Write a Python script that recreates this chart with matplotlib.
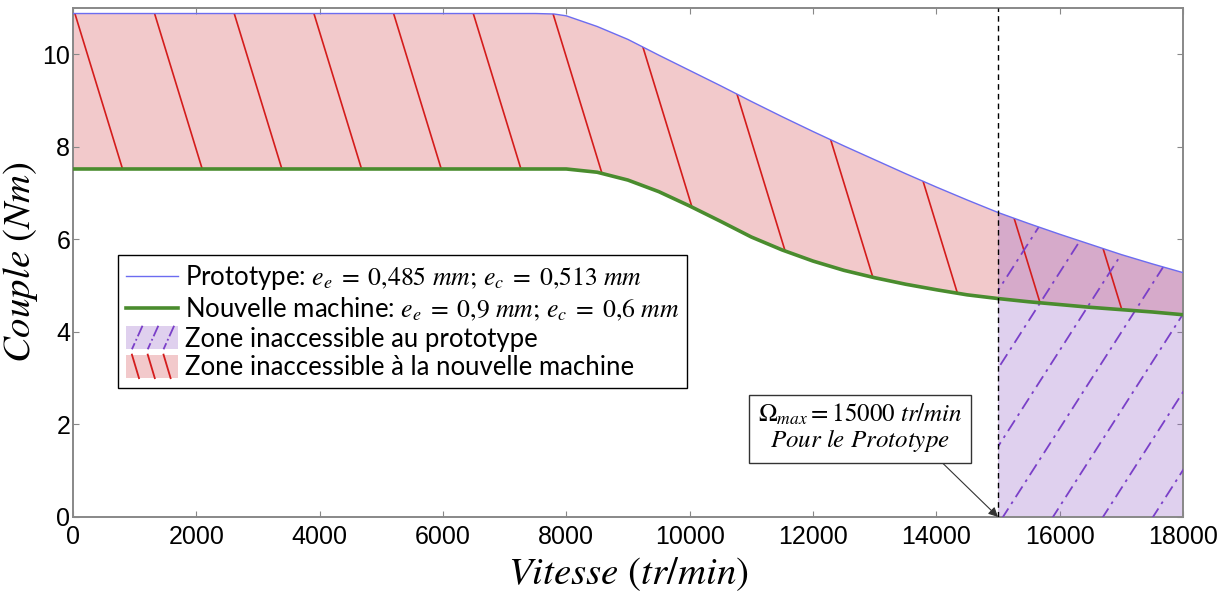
import numpy as np
import matplotlib.pyplot as plt
from matplotlib.lines import Line2D
from matplotlib.patches import Patch, Rectangle
from matplotlib.legend_handler import HandlerBase

plt.rcParams["font.family"] = ["Liberation Sans", "DejaVu Sans"]
plt.rcParams["mathtext.fontset"] = "stix"

# ---- data ----
vitesse = [0, 7500, 7800, 8000, 8500, 9000, 9500, 10000, 10500, 11000, 11500,
           12000, 12500, 13000, 13500, 14000, 14500, 15000, 15500, 16000,
           16500, 17000, 17500, 18000]
couple_proto = [10.88, 10.88, 10.87, 10.83, 10.60, 10.32, 9.98, 9.65, 9.32,
                8.98, 8.65, 8.33, 8.02, 7.72, 7.42, 7.13, 6.85, 6.58, 6.34,
                6.11, 5.89, 5.67, 5.47, 5.28]
couple_new = [7.52, 7.52, 7.52, 7.52, 7.45, 7.28, 7.03, 6.72, 6.39, 6.05, 5.77,
              5.53, 5.33, 5.17, 5.03, 4.91, 4.80, 4.72, 4.65, 4.59, 4.53, 4.48,
              4.43, 4.37]
omega_max = 15000

lbl_proto = r"Prototype: $e_e\;=\;0{,}485\ mm;\,e_c\;=\;0{,}513\ mm$"
lbl_new = r"Nouvelle machine: $e_e\;=\;0{,}9\ mm;\,e_c\;=\;0{,}6\ mm$"
lbl_zone_proto = "Zone inaccessible au prototype"
lbl_zone_new = "Zone inaccessible à la nouvelle machine"

PINK = "#f2c9cb"
RED = "#d41c1c"
PURPLE_FILL = "#9664c8"
PURPLE_LINE = "#7a3fc8"
BLUE = "#6c6cf0"
GREEN = "#4a8c2e"


class HatchHandler(HandlerBase):
    """Legend patch with a few slanted lines, like the hatched zones."""

    def __init__(self, face, alpha, color, ls, lean):
        super().__init__()
        self.face, self.alpha, self.color, self.ls, self.lean = face, alpha, color, ls, lean

    def create_artists(self, legend, orig_handle, xdescent, ydescent,
                       width, height, fontsize, trans):
        x0, y0 = -xdescent, -ydescent - 2
        h = height + 4
        arts = [Rectangle((x0, y0), width, h, facecolor=self.face,
                          alpha=self.alpha, edgecolor="none", transform=trans)]
        for k in range(3):
            xa = x0 + width * (0.12 + 0.3 * k)
            if self.lean < 0:
                xa -= self.lean * h
            xb = xa + self.lean * h
            arts.append(Line2D([xa, xb], [y0 + h, y0], color=self.color,
                               lw=1.3, ls=self.ls, transform=trans))
        return arts


def main() -> None:
    x = np.array(vitesse, dtype=float)
    yp = np.array(couple_proto)
    yn = np.array(couple_new)

    fig = plt.figure(figsize=(12.3, 5.99), dpi=100)
    ax = fig.add_axes([0.0593, 0.137, 0.9025, 0.8497])

    # zone between the two curves (pink, red hatch)
    band = ax.fill_between(x, yn, yp, facecolor=PINK, edgecolor="none", zorder=1)
    band_path = band.get_paths()[0]

    # zone above omega_max (purple, dash-dot hatch)
    mask = x >= omega_max
    zone = ax.fill_between(x[mask], 0, yp[mask], facecolor=PURPLE_FILL,
                           alpha=0.3, edgecolor="none", zorder=2)
    zone_path = zone.get_paths()[0]

    yy = np.array([-1.0, 12.0])
    # red hatch: steep lines leaning right going down
    for k in range(-2, 16):
        x_top = 4 + k * 1292
        ln, = ax.plot(x_top + 230 * (11 - yy), yy, color=RED, lw=1.2, zorder=3)
        ln.set_clip_path(band_path, ax.transData)
    # purple hatch: dash-dot lines leaning right going up
    for k in range(-9, 5):
        x_bot = 15080 + k * 811
        ln, = ax.plot(x_bot + 481 * yy, yy, color=PURPLE_LINE, lw=1.3,
                      ls=(0, (7, 3, 1.5, 3)), zorder=3)
        ln.set_clip_path(zone_path, ax.transData)

    ax.plot(x, yp, color=BLUE, lw=1.0, zorder=4)
    ax.plot(x, yn, color=GREEN, lw=2.6, zorder=4)
    ax.axvline(omega_max, color="black", lw=1.0, ls=(0, (4, 3)), zorder=5)

    ax.annotate(
        r"$\mathit{\Omega}_{max} = 15000\ tr/min$" + "\n" + r"$Pour\ le\ Prototype$",
        xy=(omega_max, 0), xytext=(12760, 1.92), ha="center", va="center",
        fontsize=18, linespacing=1.0,
        bbox=dict(boxstyle="square,pad=0.35", fc="white", ec="#333333", lw=1.0),
        arrowprops=dict(arrowstyle="-|>", color="#333333", lw=0.8,
                        relpos=(0.86, 0), shrinkA=0, shrinkB=0,
                        mutation_scale=14),
        zorder=6,
    )

    ax.set_xlim(0, 18000)
    ax.set_ylim(0, 11)
    ax.set_xticks(np.arange(0, 18001, 2000))
    ax.set_yticks(np.arange(0, 11, 2))
    ax.tick_params(direction="in", length=4, width=0.8, color="#888888",
                   labelsize=18, pad=2, top=True, right=True)
    ax.tick_params(axis="x", pad=6)
    for s in ax.spines.values():
        s.set_color("#888888")
        s.set_linewidth(1.4)

    ax.set_xlabel(r"$Vitesse\ (tr/min)$", fontsize=28, labelpad=4)
    ax.set_ylabel(r"$Couple\ (Nm)$", fontsize=28, labelpad=2)

    h_proto = Line2D([], [], color=BLUE, lw=1.0)
    h_new = Line2D([], [], color=GREEN, lw=2.6)
    h_zone_proto = Patch()
    h_zone_new = Patch()
    leg = ax.legend(
        [h_proto, h_new, h_zone_proto, h_zone_new],
        [lbl_proto, lbl_new, lbl_zone_proto, lbl_zone_new],
        handler_map={
            h_zone_proto: HatchHandler(PURPLE_FILL, 0.3, PURPLE_LINE, "-.", -0.45),
            h_zone_new: HatchHandler(PINK, 1.0, RED, "-", 0.3),
        },
        loc="upper left", bbox_to_anchor=(0.0405, 0.515), borderaxespad=0,
        fancybox=False, edgecolor="black", framealpha=1,
        prop={"family": "Lato", "size": 18.5}, handlelength=2.05,
        handletextpad=0.25, labelspacing=0.15, borderpad=0.3,
    )
    leg.get_frame().set_linewidth(1.0)
    leg.set_zorder(7)

    fig.savefig("out.png", dpi=100)
    plt.close(fig)


if __name__ == "__main__":
    main()
